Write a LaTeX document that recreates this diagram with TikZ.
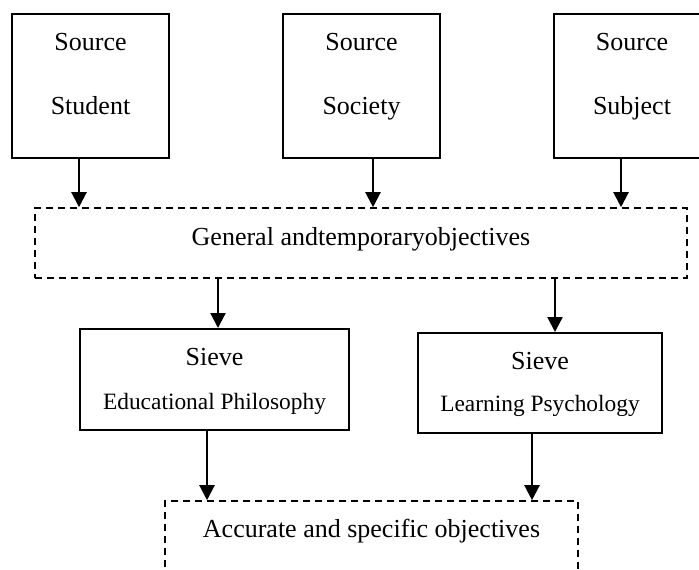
\documentclass[tikz,border=0pt]{standalone}
\usepackage{fontspec}
\setmainfont{Liberation Serif}
\usetikzlibrary{arrows.meta}

\newcommand{\sieveline}[1]{{\fontsize{11.7}{22}\selectfont #1}}

\begin{document}
\begin{tikzpicture}[x=0.5pt, y=-0.5pt,
    srcbox/.style={draw, line width=1pt, inner sep=0pt, text width=78.5pt, align=flush center,
        font=\fontsize{13}{32}\selectfont, text height=18pt, text depth=54pt},
    sievebox/.style={draw, line width=1pt, inner sep=0pt, align=flush center,
        font=\fontsize{13}{22}\selectfont, text height=18pt},
    dashbox/.style={draw, line width=0.8pt, dash pattern=on 3.3pt off 2.7pt, inner sep=0pt,
        align=flush center, font=\fontsize{13}{16}\selectfont, text height=18pt},
    arr/.style={line width=1.1pt, -{Triangle[length=7.5pt, width=7.5pt]}}]
    \useasboundingbox (0,0) rectangle (699,569);
    \clip (0,0) rectangle (699,569);

    % Sources
    \node[srcbox] (student) at (90.5, 86) {Source\\Student};
    \node[srcbox] (society) at (361.5, 86) {Source\\Society};
    \node[srcbox] (subject) at (632, 86) {Source\\Subject};

    % General objectives
    \node[dashbox, text width=326pt, text height=18.5pt, text depth=16.5pt] (general) at (361, 243)
        {General andtemporaryobjectives};

    % Sieves
    \node[sievebox, text width=134.5pt, text depth=32.5pt] (edu) at (214.5, 379.5)
        {Sieve\\\sieveline{Educational Philosophy}};
    \node[sievebox, text width=122pt, text depth=32pt, font=\fontsize{13}{21.2}\selectfont] (learn) at (540, 383)
        {Sieve\\\sieveline{Learning Psychology}};

    % Specific objectives
    \node[dashbox, text width=206.5pt, text depth=31.5pt] (specific) at (371.5, 550.5)
        {Accurate and specific objectives};

    % Arrows
    \draw[arr] ([xshift=-5.75pt]student.south) -- ([xshift=-5.75pt]student.south |- general.north);
    \draw[arr] ([xshift=5.75pt]society.south) -- ([xshift=5.75pt]society.south |- general.north);
    \draw[arr] ([xshift=-5.5pt]subject.south) -- ([xshift=-5.5pt]subject.south |- general.north);
    \draw[arr] ([xshift=1.75pt]edu.north |- general.south) -- ([xshift=1.75pt]edu.north);
    \draw[arr] ([xshift=7.5pt]learn.north |- general.south) -- ([xshift=7.5pt]learn.north);
    \draw[arr] ([xshift=-3.75pt]edu.south) -- ([xshift=-3.75pt]edu.south |- specific.north);
    \draw[arr] ([xshift=-4pt]learn.south) -- ([xshift=-4pt]learn.south |- specific.north);
\end{tikzpicture}
\end{document}
